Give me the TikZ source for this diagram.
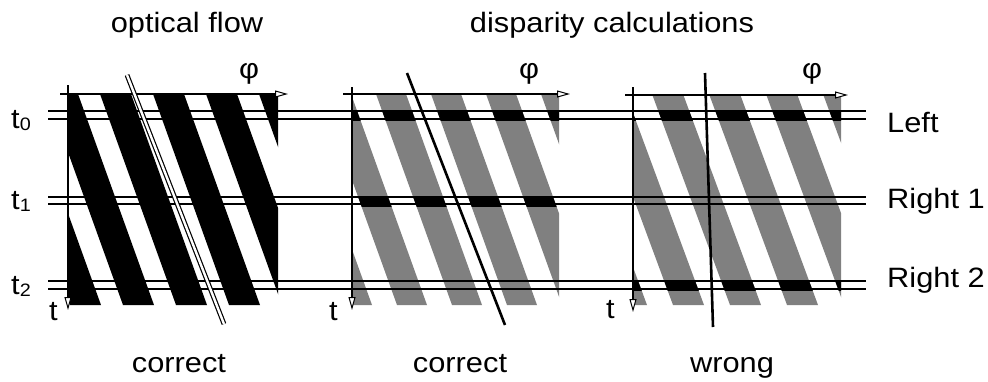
\documentclass[tikz,border=0pt]{standalone}
\usepackage{fontspec}
\setmainfont{Liberation Sans}[FakeStretch=1.1]
\usetikzlibrary{arrows.meta}
\newcommand{\tsub}[1]{\raisebox{-2pt}{\fontsize{18}{18}\selectfont #1}}

\begin{document}
\begin{tikzpicture}[x=1pt,y=-1pt,
    lbl/.style={font=\fontsize{28}{32}\selectfont,inner sep=0pt},
    axis/.style={line width=1.8pt,-{Triangle[length=13pt,width=7pt,fill=white,line width=1pt]}},
    rowline/.style={line width=1.4pt},
    band/.style={fill=black!50},
    probe/.style={line width=2.6pt}
  ]
\useasboundingbox (0,0) rectangle (988,381);

% optical flow image
\begin{scope}
  \clip (68,94) rectangle (278,305);
  \foreach \k in {-3,...,4}
    \fill ({100+53*\k},94) -- ++(31,0) -- ++(76,211) -- ++(-31,0) -- cycle;
\end{scope}

% disparity images, dark where the row is sampled
\begin{scope}
  \clip (352,94) rectangle (559,305);
  \foreach \k in {-3,...,4}
    \fill[band] ({376+55*\k},94) -- ++(30,0) -- ++(76,211) -- ++(-30,0) -- cycle;
  \foreach \ya in {110,196}{
    \begin{scope}
      \clip (352,\ya) rectangle (559,\ya+10);
      \foreach \k in {-3,...,4}
        \fill ({376+55*\k},94) -- ++(30,0) -- ++(76,211) -- ++(-30,0) -- cycle;
    \end{scope}}
\end{scope}
\begin{scope}
  \clip (633,94) rectangle (841,305);
  \foreach \k in {-3,...,4}
    \fill[band] ({652+57*\k},94) -- ++(31,0) -- ++(78,211) -- ++(-31,0) -- cycle;
  \foreach \ya in {110,280}{
    \begin{scope}
      \clip (633,\ya) rectangle (841,\ya+10);
      \foreach \k in {-3,...,4}
        \fill ({652+57*\k},94) -- ++(31,0) -- ++(78,211) -- ++(-31,0) -- cycle;
    \end{scope}}
\end{scope}

% sampled rows
\foreach \ya/\yb in {111/119,197/204,281/289}{
  \draw[rowline] (48,\ya) -- (866,\ya);
  \draw[rowline] (48,\yb) -- (866,\yb);}

% axes
\draw[axis] (60,94) -- (288,94);
\draw[axis] (68,85) -- (68,310);
\draw[axis] (343,94) -- (570,94);
\draw[axis] (352,87) -- (352,310);
\draw[axis] (625,95) -- (848,95);
\draw[axis] (633,87) -- (633,312);

% matching lines
\draw[line width=1.2pt,double=white,double distance=2.4pt] (127,75) -- (224,324);
\draw[probe] (407,73) -- (505,325);
\draw[probe] (705,73) -- (713,327);

% labels
\node[lbl,anchor=base] (flow) at (187,32) {optical flow};
\node[lbl,anchor=base] (disp) at (612,32) {disparity calculations};
\node[lbl,anchor=base] (phia) at (249,78) {φ};
\node[lbl,anchor=base] (phib) at (529,78) {φ};
\node[lbl,anchor=base] (phic) at (812,78) {φ};
\node[lbl,anchor=base west] (tz) at (11,128) {t\tsub{0}};
\node[lbl,anchor=base west] (to) at (11,209) {t\tsub{1}};
\node[lbl,anchor=base west] (tw) at (11,294) {t\tsub{2}};
\node[lbl,anchor=base west] (ta) at (49,320) {t};
\node[lbl,anchor=base west] (tb) at (329,320) {t};
\node[lbl,anchor=base west] (tc) at (606,318) {t};
\node[lbl,anchor=base west] (left) at (887,132) {Left};
\node[lbl,anchor=base west] (righta) at (887,208) {Right 1};
\node[lbl,anchor=base west] (rightb) at (887,287) {Right 2};
\node[lbl,anchor=base] (oka) at (179,372) {correct};
\node[lbl,anchor=base] (okb) at (460,372) {correct};
\node[lbl,anchor=base] (bad) at (732,372) {wrong};
\end{tikzpicture}
\end{document}
